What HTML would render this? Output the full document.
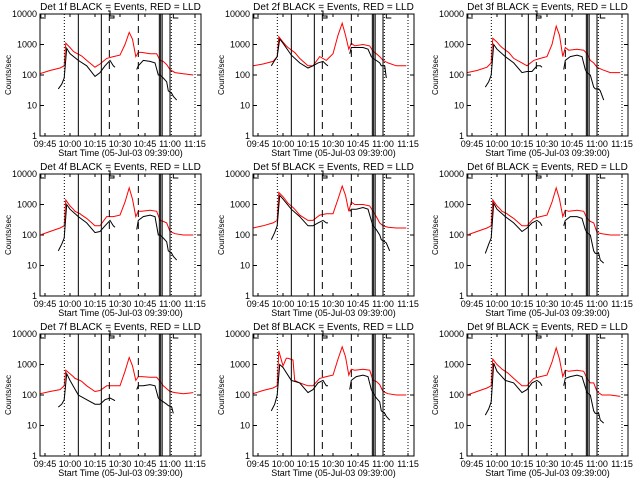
<!DOCTYPE html>
<html><head><meta charset="utf-8"><style>
html,body{margin:0;padding:0;background:#fff;}
svg{display:block;font-family:"Liberation Sans",sans-serif;}
</style></head><body>
<svg id="chart" width="640" height="480" viewBox="0 0 640 480" xmlns="http://www.w3.org/2000/svg">
<rect x="0" y="0" width="640" height="480" fill="#fff"/>
</svg>
<script>
const detectors = ["1f","2f","3f","4f","5f","6f","7f","8f","9f"];
const redTimes = [42,48,54,56.5,57.5,60,62,63,66,67,70,75,78,82,86,90,93,95.5,97.5,99.5,101,103,108,112,114,116,118,120,123,128,134];
const redVals1 = [110,140,170,200,1100,800,600,550,450,420,300,180,230,350,400,450,1000,2500,1500,400,550,550,500,500,300,280,220,150,120,110,100];
const redVals2 = [200,230,280,400,1800,1200,900,800,600,550,350,200,200,400,300,500,2000,5000,2000,700,1100,900,1000,900,600,500,400,300,250,200,200];
const redVals3 = [120,140,180,250,1600,1200,900,800,600,550,350,250,200,300,350,400,1000,4000,2000,400,800,650,700,650,500,300,250,180,150,120,120];
const redVals4 = [100,130,170,200,1400,900,700,600,500,450,350,200,200,400,400,450,1200,3500,1500,400,600,600,650,600,300,280,250,130,110,100,100];
const redVals5 = [170,200,250,300,2500,1800,1300,1100,800,700,450,300,300,450,500,500,1500,4000,2000,600,1200,1000,1000,900,600,400,250,200,180,170,170];
const redVals6 = [100,130,170,200,1400,900,700,600,500,450,350,200,200,350,400,450,1200,3500,1500,400,650,600,650,600,350,280,250,120,110,100,100];
const redVals7 = [110,130,150,200,650,500,400,350,300,280,200,130,140,200,200,200,600,1700,900,300,400,400,380,380,280,200,160,130,120,110,120];
const redVals8 = [110,140,170,200,2800,900,1600,1600,1400,300,250,200,200,350,400,450,1500,3800,1800,450,700,650,700,650,300,280,220,130,110,100,100];
const redVals9 = [100,130,170,200,1500,1000,800,700,550,500,350,200,200,350,400,450,1200,3500,1500,400,650,600,650,600,350,250,250,130,100,100,90];
const blackTimes = [53,55,56.5,58,60,65,70,75,78,81,84,86,87,90,100,101,104,108,111,113,114,116,118,119,121,122,124,126];
const blackVals1 = [35,50,80,750,500,300,200,90,120,200,300,200,180,null,150,200,300,280,250,100,100,80,60,30,25,20,15,null];
const blackVals2 = [200,300,400,1500,1100,450,250,170,200,250,280,220,200,null,500,800,800,800,700,400,350,300,250,200,200,80,null,null];
const blackVals3 = [40,60,100,1000,700,400,250,120,130,130,200,200,180,null,150,300,400,450,400,150,120,100,40,35,35,30,15,null];
const blackVals4 = [30,50,80,1000,700,400,250,120,130,200,300,200,180,null,150,300,400,450,400,100,100,80,60,30,25,20,15,null];
const blackVals5 = [70,120,200,2000,1500,700,400,200,200,250,300,250,250,null,600,700,700,800,700,300,200,150,100,70,60,55,30,null];
const blackVals6 = [25,50,80,1100,700,400,250,130,170,250,300,250,200,null,200,300,400,400,350,150,120,100,30,25,25,15,12,null];
const blackVals7 = [40,50,70,500,300,100,70,50,50,70,80,70,65,null,150,200,200,220,200,80,70,60,50,45,40,25,null,null];
const blackVals8 = [30,50,100,1000,800,300,250,120,150,250,300,200,200,null,150,300,400,450,400,150,120,80,60,30,25,20,15,null];
const blackVals9 = [22,35,60,1100,600,300,250,120,150,250,300,250,200,null,200,350,400,450,400,180,120,100,30,25,25,15,12,null];
const yTickVals = [1,10,100,1000,10000];
const yTickLabels = ["1","10","100","1000","10000"];
const xTickTimes = [45,60,75,90,105,120,135];
const xTickLabels = ["09:45","10:00","10:15","10:30","10:45","11:00","11:15"];
const markerTimes = [56.6,65,78.8,83.6,101,113.6,114.4,115.3,120,120.8,135];
const markerStyles = ["dot","solid","solid","dash","dash","solid","solid","solid","solid","dot","dot"];

const redAll=[redVals1,redVals2,redVals3,redVals4,redVals5,redVals6,redVals7,redVals8,redVals9];
const blackAll=[blackVals1,blackVals2,blackVals3,blackVals4,blackVals5,blackVals6,blackVals7,blackVals8,blackVals9];
const NS="http://www.w3.org/2000/svg";
const svg=document.getElementById('chart');
function mk(tag,attrs,parent){const e=document.createElementNS(NS,tag);for(const k in attrs)e.setAttribute(k,attrs[k]);parent.appendChild(e);return e;}
const colOff=[0,213,427], rowOff=[0,160,320];
const W=161,H=122,T0=42,T1=138.6;
detectors.forEach((d,i)=>{
  const ox=colOff[i%3]+40, oy=rowOff[Math.floor(i/3)]+14;
  const xs=t=>ox+(t-T0)*W/(T1-T0);
  const ys=v=>oy+(4-Math.log10(v))*H/4;
  const g=mk('g',{},svg);
  
  
  const cid='clip'+i;
  const cp=mk('clipPath',{id:cid},g);
  mk('rect',{x:ox,y:oy,width:W,height:H},cp);
  // title
  const tt=mk('text',{x:ox+W/2,y:oy-4,'text-anchor':'middle','font-size':'10'},g);
  tt.textContent='Det '+d+' BLACK = Events, RED = LLD';
  
  
  // y ticks
  yTickVals.forEach((v,k)=>{
    const y=ys(v);
    mk('line',{x1:ox,x2:ox+4,y1:y,y2:y,stroke:'#000'},g);
    mk('line',{x1:ox+W-4,x2:ox+W,y1:y,y2:y,stroke:'#000'},g);
    const tl=mk('text',{x:ox-3,y:y+3,'text-anchor':'end','font-size':'9'},g);
    tl.textContent=yTickLabels[k];
    
    
  });
  xTickTimes.forEach((t,k)=>{
    const x=xs(t);
    mk('line',{x1:x,x2:x,y1:oy+H,y2:oy+H-3,stroke:'#000'},g);
    mk('line',{x1:x,x2:x,y1:oy,y2:oy+3,stroke:'#000'},g);
    const tl=mk('text',{x:x,y:oy+H+11,'text-anchor':'middle','font-size':'9'},g);
    tl.textContent=xTickLabels[k];
    
    
  });
  const yl=mk('text',{x:0,y:0,'text-anchor':'middle','font-size':'8',transform:`translate(${ox-29},${oy+H/2}) rotate(-90)`},g);
  yl.textContent='Counts/sec';
  
  
  const xl=mk('text',{x:ox+W/2,y:oy+H+20,'text-anchor':'middle','font-size':'9'},g);
  xl.textContent='Start Time (05-Jul-03 09:39:00)';
  
  
  // series
  function series(times,vals,color,name){
    let segs=[],cur=[];
    times.forEach((t,k)=>{const v=vals[k];if(v==null){if(cur.length)segs.push(cur);cur=[];}else cur.push(xs(t).toFixed(1)+','+ys(v).toFixed(1));});
    if(cur.length)segs.push(cur);
    segs.forEach(s=>{const p=mk('polyline',{points:s.join(' '),fill:'none',stroke:color,'stroke-width':'1','clip-path':`url(#${cid})`},g);
      
      });
  }
  series(redTimes,redAll[i],'#ff0000','lld-red-line');
  series(blackTimes,blackAll[i],'#000','events-black-line');
  // vertical markers
  markerTimes.forEach((t,k)=>{
    const x=xs(t),st=markerStyles[k];
    const a={x1:x,x2:x,y1:oy,y2:oy+H,stroke:'#000','stroke-width':'1'};
    if(st==='dot')a['stroke-dasharray']='1,2';
    if(st==='dash')a['stroke-dasharray']='7,5';
    const l=mk('line',a,g);
    
    
  });
  // small top glyph markers
  const m1=xs(42.5),m2=xs(84),m3=xs(122);
  mk('path',{d:`M${m1},${oy} V${oy+4} H${m1+5}`,fill:'none',stroke:'#000'},g);
  mk('path',{d:`M${m2-2},${oy-3} H${m2} V${oy+2} H${m2+4} V${oy+4} H${m2}`,fill:'none',stroke:'#000'},g);
  mk('path',{d:`M${m3},${oy} V${oy+4} H${m3+5}`,fill:'none',stroke:'#000'},g);
  mk('rect',{x:ox,y:oy,width:W,height:H,fill:'none',stroke:'#000','stroke-width':'1'},g);
});
</script>
</body></html>
